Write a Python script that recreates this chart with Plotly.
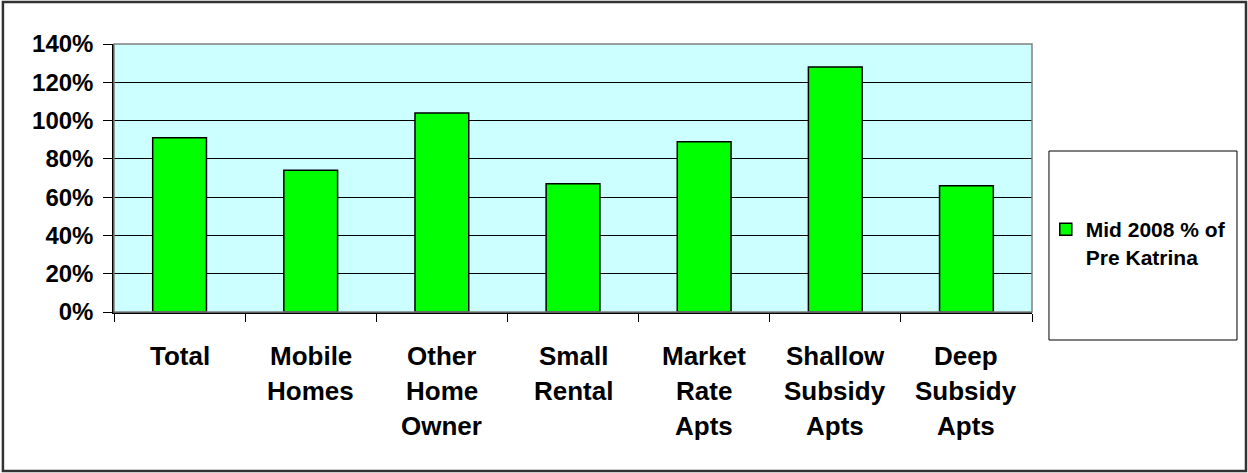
import plotly.graph_objects as go

categories = ["Total", "Mobile Homes", "Other Home Owner", "Small Rental",
              "Market Rate Apts", "Shallow Subsidy Apts", "Deep Subsidy Apts"]
label_lines = [["Total"], ["Mobile", "Homes"], ["Other", "Home", "Owner"],
               ["Small", "Rental"], ["Market", "Rate", "Apts"],
               ["Shallow", "Subsidy", "Apts"], ["Deep", "Subsidy", "Apts"]]
values = [91, 74, 104, 67, 89, 128, 66]
series_name = "Mid 2008 % of<br>Pre Katrina"
y_ticks = [0, 20, 40, 60, 80, 100, 120, 140]
y_tick_labels = ["0%", "20%", "40%", "60%", "80%", "100%", "120%", "140%"]

FONT = "Liberation Sans, Arial, sans-serif"

fig = go.Figure()
fig.add_trace(go.Bar(
    x=categories, y=values, name=series_name,
    marker=dict(color="#00FF00", line=dict(color="black", width=1.5)),
    showlegend=True,
))

annotations = []
for cat, lines in zip(categories, label_lines):
    for i, ln in enumerate(lines):
        annotations.append(dict(
            x=cat, xref="x", y=0, yref="paper", yanchor="top",
            yshift=-27 - i * 35, text=ln, showarrow=False,
            font=dict(family=FONT, size=26, color="black", weight="bold"),
        ))

shapes = [
    # plot area border (gray)
    dict(type="rect", xref="paper", yref="paper", x0=0, x1=1, y0=0, y1=1,
         line=dict(color="#808080", width=1.5), layer="above"),
    # legend box
    dict(type="rect", xref="paper", yref="paper", x0=1.0185, x1=1.2233,
         y0=-0.1045, y1=0.6007, line=dict(color="black", width=1),
         fillcolor="white", layer="below"),
    # outer chart border
    dict(type="rect", xref="paper", yref="paper", x0=-0.121, x1=1.2331,
         y0=-0.593, y1=1.1567, line=dict(color="#333333", width=2.5),
         layer="below"),
]

fig.update_layout(
    width=1248, height=473,
    margin=dict(l=114, r=216, t=44, b=161),
    paper_bgcolor="white", plot_bgcolor="#CCFFFF",
    bargap=0.59,
    font=dict(family=FONT, color="black"),
    showlegend=True,
    legend=dict(x=1.015, xanchor="left", y=0.257, yanchor="middle",
                bgcolor="rgba(0,0,0,0)", borderwidth=0, valign="top",
                font=dict(family=FONT, size=21, color="black", weight="bold")),
    annotations=annotations,
    shapes=shapes,
)
fig.update_xaxes(
    showticklabels=False, ticks="outside", tickson="boundaries", ticklen=8,
    tickcolor="black", showline=True, linecolor="black", linewidth=1.5,
    showgrid=False,
)
fig.update_yaxes(
    range=[0, 140], tickmode="array", tickvals=y_ticks, ticktext=y_tick_labels,
    ticks="outside",
    ticklen=9, tickcolor="black", showline=True, linecolor="black",
    linewidth=1.5, showgrid=True, gridcolor="black", gridwidth=1,
    zeroline=False, ticklabelstandoff=5,
    tickfont=dict(family=FONT, size=24, color="black", weight="bold"),
)

fig.write_html("out.html", config={"displayModeBar": False},
               post_script="document.body.style.margin='0';document.body.style.overflow='hidden';")
